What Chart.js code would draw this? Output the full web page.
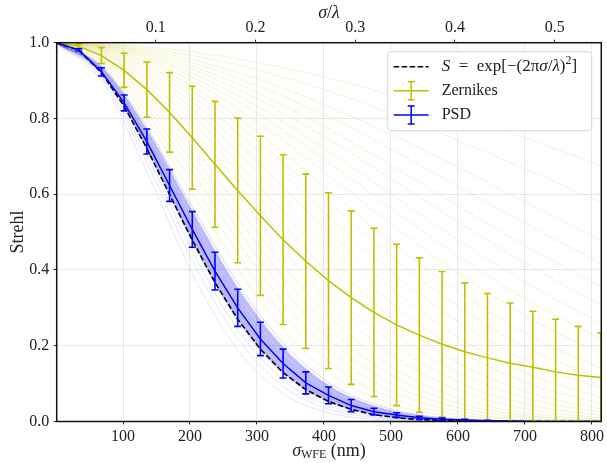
<!DOCTYPE html>
<html>
<head>
<meta charset="utf-8">
<script src="https://cdn.jsdelivr.net/npm/chart.js@4.4.0/dist/chart.umd.min.js"></script>
<style>
  html, body { margin: 0; padding: 0; background: #fff; }
</style>
</head>
<body>
<canvas id="strehlChart" width="607" height="463"></canvas>
<script>
'use strict';

// sigma_WFE sample points (nm)
let sigmaNm = [0, 33.9, 67.8, 101.7, 135.6, 169.5, 203.4, 237.3, 271.2, 305.1, 339.0, 372.9, 406.8,
  440.7, 474.6, 508.5, 542.4, 576.3, 610.2, 644.1, 678.0, 711.9, 745.8, 779.7, 813.6];

let marechal = [1, 0.980, 0.921, 0.832, 0.721, 0.599, 0.479, 0.367, 0.270, 0.191, 0.129, 0.084, 0.053,
  0.032, 0.018, 0.010, 0.005, 0.003, 0.001, 0.001, 0, 0, 0, 0, 0];

let zernMean = [1, 0.991, 0.966, 0.927, 0.876, 0.816, 0.749, 0.679, 0.610, 0.543, 0.480, 0.423, 0.372,
  0.327, 0.288, 0.255, 0.228, 0.204, 0.184, 0.168, 0.154, 0.143, 0.131, 0.122, 0.116];
let zernStd = [0, 0.006, 0.021, 0.045, 0.073, 0.105, 0.136, 0.166, 0.191, 0.210, 0.224, 0.230, 0.232,
  0.229, 0.222, 0.213, 0.204, 0.192, 0.182, 0.170, 0.159, 0.148, 0.139, 0.129, 0.118];

let psdMean = [1, 0.981, 0.923, 0.841, 0.739, 0.623, 0.507, 0.397, 0.300, 0.218, 0.153, 0.102, 0.069,
  0.042, 0.026, 0.017, 0.010, 0.006, 0.004, 0.002, 0.001, 0, 0, 0, 0];
let psdStd = [0, 0.003, 0.011, 0.021, 0.033, 0.042, 0.047, 0.050, 0.049, 0.044, 0.038, 0.029, 0.022,
  0.016, 0.009, 0.006, 0.004, 0.003, 0.002, 0.001, 0, 0, 0, 0, 0];

// individual realisations (faint lines)
let zernFaintSigma = [0, 101.7, 203.4, 305.1, 406.8, 508.5, 610.2, 711.9, 813.6];
let zernFaint = [
  [1, 0.836, 0.488, 0.199, 0.057, 0.011, 0.002, 0, 0],
  [1, 0.868, 0.567, 0.279, 0.103, 0.029, 0.006, 0.001, 0],
  [1, 0.880, 0.601, 0.318, 0.130, 0.042, 0.010, 0.002, 0],
  [1, 0.891, 0.632, 0.356, 0.159, 0.057, 0.016, 0.004, 0.001],
  [1, 0.901, 0.659, 0.391, 0.189, 0.074, 0.023, 0.006, 0.001],
  [1, 0.909, 0.684, 0.425, 0.219, 0.093, 0.033, 0.010, 0.002],
  [1, 0.917, 0.706, 0.457, 0.249, 0.114, 0.044, 0.014, 0.004],
  [1, 0.923, 0.727, 0.488, 0.279, 0.136, 0.057, 0.020, 0.006],
  [1, 0.931, 0.751, 0.525, 0.318, 0.167, 0.076, 0.030, 0.010],
  [1, 0.937, 0.772, 0.559, 0.355, 0.198, 0.097, 0.042, 0.016],
  [1, 0.943, 0.791, 0.590, 0.391, 0.231, 0.121, 0.057, 0.024],
  [1, 0.948, 0.808, 0.618, 0.426, 0.263, 0.146, 0.073, 0.033],
  [1, 0.953, 0.826, 0.650, 0.465, 0.302, 0.179, 0.096, 0.047],
  [1, 0.958, 0.842, 0.678, 0.502, 0.340, 0.212, 0.121, 0.063],
  [1, 0.962, 0.858, 0.709, 0.542, 0.384, 0.252, 0.153, 0.087],
  [1, 0.966, 0.872, 0.735, 0.579, 0.425, 0.292, 0.187, 0.112],
  [1, 0.970, 0.884, 0.758, 0.611, 0.464, 0.331, 0.222, 0.140],
  [1, 0.973, 0.898, 0.785, 0.650, 0.510, 0.380, 0.268, 0.179],
  [1, 0.977, 0.909, 0.808, 0.684, 0.552, 0.425, 0.312, 0.219],
  [1, 0.979, 0.919, 0.827, 0.713, 0.590, 0.468, 0.356, 0.259],
  [1, 0.982, 0.929, 0.847, 0.745, 0.631, 0.516, 0.406, 0.308],
  [1, 0.984, 0.937, 0.865, 0.772, 0.668, 0.559, 0.453, 0.356],
  [1, 0.986, 0.947, 0.884, 0.804, 0.711, 0.611, 0.512, 0.417],
  [1, 0.989, 0.955, 0.902, 0.832, 0.751, 0.662, 0.570, 0.480],
  [1, 0.991, 0.966, 0.926, 0.872, 0.808, 0.735, 0.658, 0.579],
  [1, 0.994, 0.976, 0.946, 0.907, 0.858, 0.802, 0.741, 0.676]
];

let psdFaintSigma = [0, 67.8, 135.6, 203.4, 271.2, 339.0, 406.8, 474.6, 542.4, 610.2, 678.0, 745.8, 813.6];
let psdFaint = [
  [1, 0.901, 0.659, 0.391, 0.189, 0.074, 0.023, 0.006, 0.001, 0, 0, 0, 0],
  [1, 0.909, 0.684, 0.425, 0.219, 0.093, 0.033, 0.010, 0.002, 0, 0, 0, 0],
  [1, 0.915, 0.702, 0.451, 0.243, 0.110, 0.042, 0.013, 0.004, 0.001, 0, 0, 0],
  [1, 0.920, 0.717, 0.473, 0.264, 0.125, 0.050, 0.017, 0.005, 0.001, 0, 0, 0],
  [1, 0.923, 0.727, 0.488, 0.279, 0.136, 0.057, 0.020, 0.006, 0.002, 0, 0, 0],
  [1, 0.926, 0.734, 0.499, 0.291, 0.145, 0.062, 0.023, 0.007, 0.002, 0, 0, 0],
  [1, 0.928, 0.742, 0.510, 0.302, 0.154, 0.068, 0.026, 0.008, 0.002, 0.001, 0, 0],
  [1, 0.930, 0.749, 0.521, 0.314, 0.164, 0.074, 0.029, 0.010, 0.003, 0.001, 0, 0],
  [1, 0.932, 0.755, 0.532, 0.326, 0.173, 0.080, 0.032, 0.011, 0.003, 0.001, 0, 0],
  [1, 0.935, 0.765, 0.547, 0.342, 0.188, 0.090, 0.038, 0.014, 0.004, 0.001, 0, 0],
  [1, 0.937, 0.771, 0.557, 0.354, 0.197, 0.096, 0.041, 0.016, 0.005, 0.002, 0, 0],
  [1, 0.939, 0.777, 0.567, 0.365, 0.207, 0.103, 0.046, 0.018, 0.006, 0.002, 0, 0]
];
let psdBandLow = [1, 0.921, 0.719, 0.476, 0.268, 0.128, 0.052, 0.018, 0.005, 0.001, 0, 0, 0];
let psdBandHigh = [1, 0.937, 0.771, 0.557, 0.354, 0.197, 0.096, 0.041, 0.016, 0.005, 0.002, 0, 0];

let bottomTicks = [100, 200, 300, 400, 500, 600, 700, 800];
let topTicks = [0.1, 0.2, 0.3, 0.4, 0.5];
let yTicks = [0, 0.2, 0.4, 0.6, 0.8, 1.0];
let lambdaNm = 1489;
let xMin = 1;
let xMax = 814;

let yellow = 'rgb(191,191,0)';
let blue = 'rgb(0,0,255)';
let fontName = '"Liberation Serif", "Times New Roman", serif';
let textColor = '#222';

function points(xs, ys) {
  return xs.map(function (x, i) { return { x: x, y: ys[i] }; });
}

let datasets = [];
zernFaint.forEach(function (line) {
  datasets.push({ data: points(zernFaintSigma, line), borderColor: 'rgba(191,191,0,0.17)', borderWidth: 1,
    cubicInterpolationMode: 'monotone', order: 20 });
});
psdFaint.forEach(function (line) {
  datasets.push({ data: points(psdFaintSigma, line), borderColor: 'rgba(0,0,255,0.11)', borderWidth: 1,
    cubicInterpolationMode: 'monotone', order: 19 });
});
let bandLowIndex = datasets.length;
datasets.push({ data: points(psdFaintSigma, psdBandLow), borderWidth: 0, borderColor: 'rgba(0,0,0,0)',
  cubicInterpolationMode: 'monotone', order: 18 });
datasets.push({ data: points(psdFaintSigma, psdBandHigh), borderWidth: 0, borderColor: 'rgba(0,0,0,0)',
  backgroundColor: 'rgba(30,30,255,0.27)', fill: { target: bandLowIndex },
  cubicInterpolationMode: 'monotone', order: 17 });
datasets.push({ data: points(sigmaNm, zernMean), borderColor: yellow, borderWidth: 1.5, order: 5, errs: zernStd });
datasets.push({ data: points(sigmaNm, marechal), borderColor: '#000', borderWidth: 1.6, borderDash: [5.5, 2.5], order: 4 });
datasets.push({ data: points(sigmaNm, psdMean), borderColor: blue, borderWidth: 1.5, order: 3, errs: psdStd });

// vertical error bars with caps, from the std arrays
let errorBars = {
  id: 'errorBars',
  afterDatasetsDraw: function (chart) {
    let ctx = chart.ctx, a = chart.chartArea;
    let xs = chart.scales.x, ys = chart.scales.y;
    ctx.save();
    ctx.beginPath();
    ctx.rect(a.left, a.top, a.right - a.left, a.bottom - a.top);
    ctx.clip();
    chart.data.datasets.forEach(function (ds) {
      if (!ds.errs) return;
      ctx.strokeStyle = ds.borderColor;
      ctx.lineWidth = 1.6;
      ds.data.forEach(function (p, i) {
        let e = ds.errs[i];
        if (!e) return;
        let px = xs.getPixelForValue(p.x);
        let top = ys.getPixelForValue(p.y + e);
        let bot = ys.getPixelForValue(p.y - e);
        ctx.beginPath();
        ctx.moveTo(px, top); ctx.lineTo(px, bot);
        ctx.moveTo(px - 3.5, top); ctx.lineTo(px + 3.5, top);
        ctx.moveTo(px - 3.5, bot); ctx.lineTo(px + 3.5, bot);
        ctx.stroke();
      });
    });
    ctx.restore();
  }
};

function drawRuns(ctx, runs, x, y, base) {
  runs.forEach(function (r) {
    ctx.font = (r.italic ? 'italic ' : '') + (r.size || base) + 'px ' + fontName;
    ctx.fillText(r.t, x, y + (r.dy || 0));
    x += ctx.measureText(r.t).width;
  });
  return x;
}

function runsWidth(ctx, runs, base) {
  let w = 0;
  runs.forEach(function (r) {
    ctx.font = (r.italic ? 'italic ' : '') + (r.size || base) + 'px ' + fontName;
    w += ctx.measureText(r.t).width;
  });
  return w;
}

let frameAndText = {
  id: 'frameAndText',
  afterDraw: function (chart) {
    let ctx = chart.ctx, a = chart.chartArea;
    ctx.save();
    ctx.strokeStyle = '#111';
    ctx.lineWidth = 1.5;
    ctx.strokeRect(a.left, a.top, a.right - a.left, a.bottom - a.top);

    ctx.fillStyle = textColor;
    ctx.textBaseline = 'middle';
    ctx.textAlign = 'left';
    let cx = (a.left + a.right) / 2;

    let topTitle = [{ t: 'σ', italic: true }, { t: '/' }, { t: 'λ', italic: true }];
    drawRuns(ctx, topTitle, cx - runsWidth(ctx, topTitle, 18) / 2, 13, 18);

    let bottomTitle = [{ t: 'σ', italic: true }, { t: 'WFE', size: 12, dy: 4 }, { t: ' (nm)' }];
    drawRuns(ctx, bottomTitle, cx - runsWidth(ctx, bottomTitle, 18) / 2, 451, 18);

    ctx.save();
    ctx.translate(18, (a.top + a.bottom) / 2);
    ctx.rotate(-Math.PI / 2);
    ctx.textAlign = 'center';
    ctx.font = '18px ' + fontName;
    ctx.fillText('Strehl', 0, 0);
    ctx.restore();

    // legend box
    let w = 204, h = 79;
    let x0 = a.right - 9.6 - w, y0 = a.top + 9;
    ctx.beginPath();
    ctx.roundRect(x0, y0, w, h, 3);
    ctx.fillStyle = 'rgba(255,255,255,0.85)';
    ctx.fill();
    ctx.strokeStyle = '#d4d4d4';
    ctx.lineWidth = 1;
    ctx.stroke();

    let hx0 = x0 + 6, hx1 = x0 + 41, hxm = (hx0 + hx1) / 2;
    let rows = [y0 + 15, y0 + 39, y0 + 63.3];

    ctx.strokeStyle = '#000';
    ctx.lineWidth = 1.5;
    ctx.setLineDash([5.5, 2.5]);
    ctx.beginPath(); ctx.moveTo(hx0, rows[0]); ctx.lineTo(hx1, rows[0]); ctx.stroke();
    ctx.setLineDash([]);

    [[yellow, rows[1]], [blue, rows[2]]].forEach(function (item) {
      let yy = item[1];
      ctx.strokeStyle = item[0];
      ctx.beginPath();
      ctx.moveTo(hx0, yy); ctx.lineTo(hx1, yy);
      ctx.moveTo(hxm, yy - 9); ctx.lineTo(hxm, yy + 9);
      ctx.moveTo(hxm - 3.5, yy - 9); ctx.lineTo(hxm + 3.5, yy - 9);
      ctx.moveTo(hxm - 3.5, yy + 9); ctx.lineTo(hxm + 3.5, yy + 9);
      ctx.stroke();
    });

    ctx.fillStyle = textColor;
    let tx = x0 + 54;
    drawRuns(ctx, [{ t: 'S', italic: true }, { t: '\u2002=\u2002exp[−(2π' }, { t: 'σ', italic: true },
      { t: '/' }, { t: 'λ', italic: true }, { t: ')' }, { t: '2', size: 12, dy: -6 }, { t: ']' }], tx, rows[0], 17);
    drawRuns(ctx, [{ t: 'Zernikes' }], tx, rows[1], 16);
    drawRuns(ctx, [{ t: 'PSD' }], tx, rows[2], 16);
    ctx.restore();
  }
};

let tickFont = { family: fontName, size: 16 };

let ctx = document.getElementById('strehlChart').getContext('2d');
let myChart = new Chart(ctx, {
  type: 'line',
  data: { datasets: datasets },
  options: {
    responsive: false,
    devicePixelRatio: 1,
    animation: false,
    layout: { padding: { left: 0, right: 2.7, top: 0, bottom: 0 } },
    elements: { point: { radius: 0 }, line: { tension: 0, fill: false } },
    plugins: { legend: { display: false }, tooltip: { enabled: false } },
    scales: {
      x: {
        type: 'linear', position: 'bottom', min: xMin, max: xMax,
        afterBuildTicks: function (s) { s.ticks = bottomTicks.map(function (v) { return { value: v }; }); },
        afterFit: function (s) { s.height = 41.5; },
        ticks: { font: tickFont, color: textColor, padding: 3, maxRotation: 0,
          callback: function (v) { return String(v); } },
        grid: { color: 'rgba(0,0,0,0.09)', lineWidth: 1, tickLength: 3, tickColor: '#222', tickWidth: 1 },
        border: { display: false }
      },
      xTop: {
        type: 'linear', position: 'top', min: xMin / lambdaNm, max: xMax / lambdaNm,
        afterBuildTicks: function (s) { s.ticks = topTicks.map(function (v) { return { value: v }; }); },
        afterFit: function (s) { s.height = 42.7; },
        ticks: { font: tickFont, color: textColor, padding: 2, maxRotation: 0,
          callback: function (v) { return v.toFixed(1); } },
        grid: { drawOnChartArea: false, tickLength: 3, tickColor: '#222', tickWidth: 1 },
        border: { display: false }
      },
      y: {
        type: 'linear', position: 'left', min: 0, max: 1,
        afterBuildTicks: function (s) { s.ticks = yTicks.map(function (v) { return { value: v }; }); },
        afterFit: function (s) { s.width = 56.7; },
        ticks: { font: tickFont, color: textColor, padding: 4.5,
          callback: function (v) { return v.toFixed(1); } },
        grid: { color: 'rgba(0,0,0,0.09)', lineWidth: 1, tickLength: 3, tickColor: '#222', tickWidth: 1 },
        border: { display: false }
      }
    }
  },
  plugins: [errorBars, frameAndText]
});
</script>
</body>
</html>
